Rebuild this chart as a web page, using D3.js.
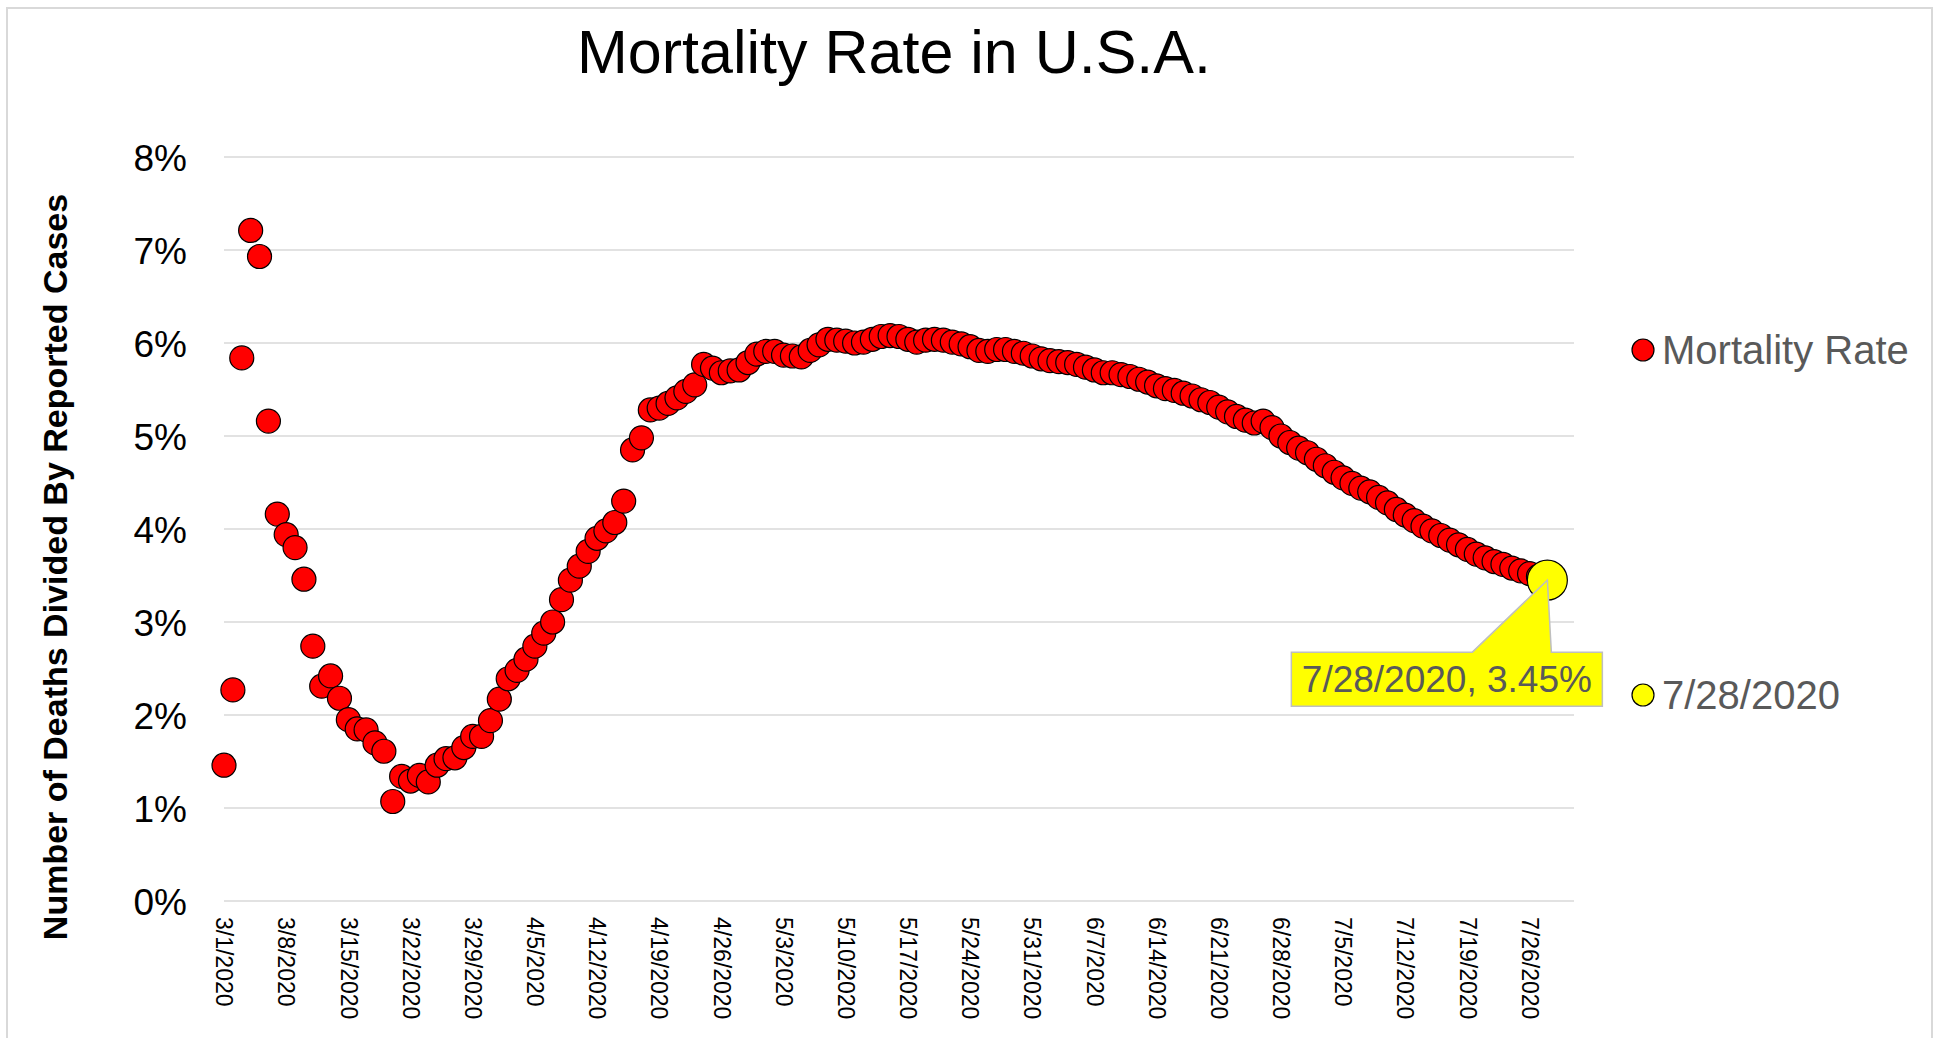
<!DOCTYPE html>
<html>
<head>
<meta charset="utf-8">
<script src="https://cdn.jsdelivr.net/npm/d3@7"></script>
<style>
  body { margin: 0; background: #fff; }
  svg { display: block; font-family: "Liberation Sans", Arial, sans-serif; }
</style>
</head>
<body>
<div id="wrapper"></div>
<script>
// data (percent, one value per day from 3/1/2020)
const startDate = "3/1/2020"
const mortalityRates = [
  1.46, 2.27, 5.84, 7.21, 6.93, 5.16, 4.16, 3.94, 3.80, 3.46,
  2.74, 2.31, 2.42, 2.18, 1.95, 1.85, 1.84, 1.70, 1.61, 1.07,
  1.34, 1.29, 1.35, 1.28, 1.46, 1.53, 1.54, 1.65, 1.77, 1.77,
  1.94, 2.17, 2.39, 2.48, 2.60, 2.74, 2.88, 3.00, 3.24, 3.45,
  3.60, 3.76, 3.90, 3.98, 4.07, 4.30, 4.85, 4.98, 5.28, 5.30,
  5.35, 5.41, 5.48, 5.55, 5.77, 5.73, 5.68, 5.70, 5.71, 5.79,
  5.88, 5.91, 5.91, 5.87, 5.86, 5.85, 5.92, 5.98, 6.04, 6.03,
  6.02, 6.00, 6.01, 6.04, 6.07, 6.08, 6.07, 6.04, 6.01, 6.03,
  6.04, 6.03, 6.01, 5.99, 5.96, 5.92, 5.91, 5.93, 5.93, 5.91,
  5.89, 5.86, 5.83, 5.81, 5.80, 5.79, 5.77, 5.74, 5.71, 5.68,
  5.68, 5.66, 5.64, 5.61, 5.58, 5.54, 5.51, 5.49, 5.46, 5.43,
  5.39, 5.36, 5.31, 5.26, 5.21, 5.17, 5.14, 5.16, 5.09, 5.00,
  4.93, 4.87, 4.82, 4.75, 4.68, 4.61, 4.55, 4.49, 4.44, 4.40,
  4.34, 4.28, 4.21, 4.15, 4.09, 4.03, 3.98, 3.93, 3.88, 3.83,
  3.78, 3.73, 3.69, 3.65, 3.62, 3.58, 3.55, 3.52, 3.49
]
const highlightDate = "7/28/2020"
const highlightRate = 3.45

const xDomain = ["3/1/2020", "7/31/2020"]
const xTickLabels = [
  "3/1/2020", "3/8/2020", "3/15/2020", "3/22/2020", "3/29/2020",
  "4/5/2020", "4/12/2020", "4/19/2020", "4/26/2020", "5/3/2020",
  "5/10/2020", "5/17/2020", "5/24/2020", "5/31/2020", "6/7/2020",
  "6/14/2020", "6/21/2020", "6/28/2020", "7/5/2020", "7/12/2020",
  "7/19/2020", "7/26/2020"
]
const yTickValues = [0, 1, 2, 3, 4, 5, 6, 7, 8]
const legendLabels = ["Mortality Rate", "7/28/2020"]

function drawChart() {
  const parseDate = d3.utcParse("%m/%d/%Y")

  const dataset = mortalityRates.map((rate, i) => ({
    date: d3.utcDay.offset(parseDate(startDate), i),
    rate: rate
  }))
  const highlight = { date: parseDate(highlightDate), rate: highlightRate }

  const xAccessor = d => d.date
  const yAccessor = d => d.rate

  // chart dimensions
  let dimensions = {
    width: 1939,
    height: 1038,
    margin: {
      top: 157,
      right: 365,
      bottom: 137,
      left: 224
    }
  }
  dimensions.boundedWidth = dimensions.width
    - dimensions.margin.left
    - dimensions.margin.right
  dimensions.boundedHeight = dimensions.height
    - dimensions.margin.top
    - dimensions.margin.bottom

  // canvas
  const wrapper = d3.select("#wrapper")
    .append("svg")
      .attr("width", dimensions.width)
      .attr("height", dimensions.height)

  wrapper.append("rect")
    .attr("width", dimensions.width)
    .attr("height", dimensions.height)
    .attr("fill", "#fff")

  // outer chart border
  wrapper.append("rect")
    .attr("x", 7)
    .attr("y", 8)
    .attr("width", 1925)
    .attr("height", 1060)
    .attr("fill", "none")
    .attr("stroke", "#d9d9d9")
    .attr("stroke-width", 2)

  const bounds = wrapper.append("g")
    .attr("transform", `translate(${dimensions.margin.left}, ${dimensions.margin.top})`)

  // scales
  const xScale = d3.scaleUtc()
    .domain(xDomain.map(parseDate))
    .range([0, dimensions.boundedWidth])

  const yScale = d3.scaleLinear()
    .domain([0, 8])
    .range([dimensions.boundedHeight, 0])

  // gridlines
  bounds.append("g")
    .selectAll("line")
    .data(yTickValues)
    .enter().append("line")
      .attr("x1", 0)
      .attr("x2", dimensions.boundedWidth)
      .attr("y1", d => yScale(d))
      .attr("y2", d => yScale(d))
      .attr("stroke", "#d9d9d9")
      .attr("stroke-width", 1.5)

  // axes
  const yAxisGenerator = d3.axisLeft()
    .scale(yScale)
    .tickValues(yTickValues)
    .tickSize(0)
    .tickPadding(37)
    .tickFormat(d => `${d}%`)

  const yAxis = bounds.append("g")
    .call(yAxisGenerator)
  yAxis.select(".domain").remove()
  yAxis.selectAll("text")
    .attr("font-size", 37)
    .attr("font-family", "\"Liberation Sans\", Arial, sans-serif")
    .attr("fill", "#000")
    .attr("dy", "0.36em")

  const xAxisGenerator = d3.axisBottom()
    .scale(xScale)
    .tickValues(xTickLabels.map(parseDate))
    .tickSize(0)
    .tickFormat(d3.utcFormat("%-m/%-d/%Y"))

  const xAxis = bounds.append("g")
    .call(xAxisGenerator)
      .attr("transform", `translate(0, ${dimensions.boundedHeight})`)
  xAxis.select(".domain").remove()
  xAxis.selectAll("text")
    .attr("font-size", 23)
    .attr("font-family", "\"Liberation Sans\", Arial, sans-serif")
    .attr("fill", "#000")
    .attr("x", 16)
    .attr("y", 0)
    .attr("dy", "0.36em")
    .attr("transform", "rotate(90)")
    .style("text-anchor", "start")

  // data
  bounds.append("g")
    .selectAll("circle")
    .data(dataset)
    .enter().append("circle")
      .attr("cx", d => xScale(xAccessor(d)))
      .attr("cy", d => yScale(yAccessor(d)))
      .attr("r", 12)
      .attr("fill", "#ff0000")
      .attr("stroke", "#000")
      .attr("stroke-width", 1.2)

  const hx = xScale(xAccessor(highlight))
  const hy = yScale(yAccessor(highlight))

  bounds.append("circle")
    .attr("cx", hx)
    .attr("cy", hy)
    .attr("r", 20)
    .attr("fill", "#ffff00")
    .attr("stroke", "#000")
    .attr("stroke-width", 1.2)

  // callout label for the last point
  const box = { left: hx - 256, right: hx + 55, top: hy + 72, bottom: hy + 126 }
  const callout = d3.path()
  callout.moveTo(box.left, box.top)
  callout.lineTo(hx - 75, box.top)
  callout.lineTo(hx, hy)
  callout.lineTo(hx + 4, box.top)
  callout.lineTo(box.right, box.top)
  callout.lineTo(box.right, box.bottom)
  callout.lineTo(box.left, box.bottom)
  callout.closePath()

  bounds.append("path")
    .attr("d", callout.toString())
    .attr("fill", "#ffff00")
    .attr("stroke", "#bfbfbf")
    .attr("stroke-width", 1.5)

  bounds.append("text")
    .attr("x", (box.left + box.right) / 2)
    .attr("y", box.bottom - 14)
    .attr("text-anchor", "middle")
    .attr("font-size", 37)
    .attr("fill", "#595959")
    .text(`${highlightDate}, ${highlightRate.toFixed(2)}%`)

  // peripherals
  wrapper.append("text")
    .attr("x", 894)
    .attr("y", 73)
    .attr("text-anchor", "middle")
    .attr("font-size", 61)
    .attr("fill", "#000")
    .text("Mortality Rate in U.S.A.")

  wrapper.append("text")
    .attr("transform", `translate(55, ${dimensions.margin.top + dimensions.boundedHeight / 2 + 38}) rotate(-90)`)
    .attr("text-anchor", "middle")
    .attr("dy", "0.36em")
    .attr("font-size", 34)
    .attr("font-weight", "bold")
    .attr("fill", "#000")
    .text("Number of Deaths Divided By Reported Cases")

  // legend
  const legendItems = [
    { label: legendLabels[0], color: "#ff0000", y: 350 },
    { label: legendLabels[1], color: "#ffff00", y: 695 }
  ]
  const legend = wrapper.append("g")
    .selectAll("g")
    .data(legendItems)
    .enter().append("g")
      .attr("transform", d => `translate(1643, ${d.y})`)

  legend.append("circle")
    .attr("r", 11)
    .attr("fill", d => d.color)
    .attr("stroke", "#000")
    .attr("stroke-width", 1.2)

  legend.append("text")
    .attr("x", 19)
    .attr("dy", "0.36em")
    .attr("font-size", 40)
    .attr("fill", "#595959")
    .text(d => d.label)
}

drawChart()
</script>
</body>
</html>
